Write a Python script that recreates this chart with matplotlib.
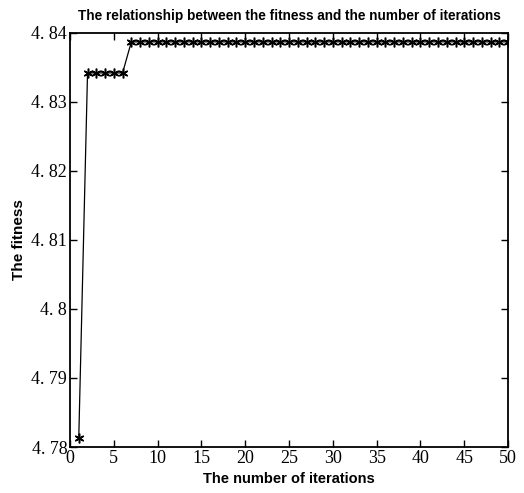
import matplotlib
matplotlib.use('Agg')
import matplotlib.pyplot as plt
import numpy as np

# data
iterations = np.arange(1, 51)
fitness = np.array([4.7813] + [4.8342] * 5 + [4.8387] * 44)

x_ticks = [0, 5, 10, 15, 20, 25, 30, 35, 40, 45, 50]
y_ticks = [4.78, 4.79, 4.80, 4.81, 4.82, 4.83, 4.84]
y_tick_labels = ['4. 78', '4. 79', '4. 8', '4. 81', '4. 82', '4. 83', '4. 84']

plt.rcParams['font.family'] = ['Liberation Serif', 'DejaVu Serif']
sans = ['Liberation Sans', 'DejaVu Sans']

fig = plt.figure(figsize=(5.24, 4.93), dpi=100)
ax = fig.add_axes([0.1336, 0.0933, 0.836, 0.84])

ax.plot(iterations, fitness, '-', color='black', linewidth=0.9,
        marker=(6, 2, 0), markersize=7, markeredgewidth=1.1)

ax.set_xlim(0, 50)
ax.set_ylim(4.78, 4.84)
ax.set_xticks(x_ticks)
ax.set_xticklabels([str(t) for t in x_ticks])
ax.set_yticks(y_ticks)
ax.set_yticklabels(y_tick_labels)
ax.tick_params(direction='in', top=True, right=True, length=5, width=1.0,
               pad=2, labelsize=13)
for s in ax.spines.values():
    s.set_linewidth(1.3)

ax.set_title('The relationship between the fitness and the number of iterations',
             family=sans, fontweight='bold', fontsize=9.8, pad=9)
ax.set_xlabel('The number of iterations', family=sans, fontweight='bold',
              fontsize=10.5, labelpad=4)
ax.set_ylabel('The fitness', family=sans, fontweight='bold', fontsize=11,
              labelpad=4)

fig.savefig('out.png', dpi=100, facecolor='white')
